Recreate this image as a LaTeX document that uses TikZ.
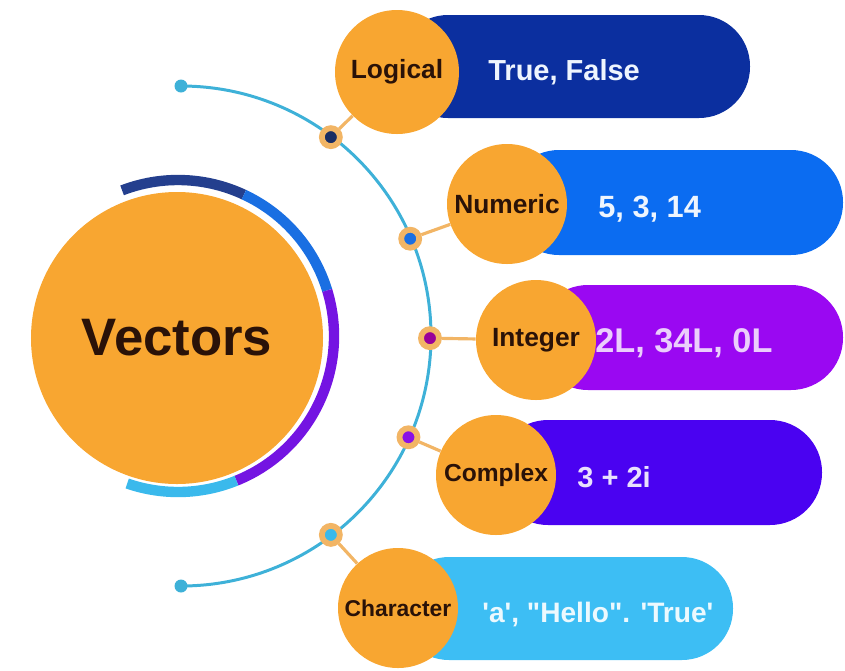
\documentclass[tikz,border=0pt]{standalone}
\usepackage{fontspec}
\setmainfont{Liberation Sans}
\usetikzlibrary{positioning}
\definecolor{vorange}{HTML}{F8A631}
\definecolor{dotring}{HTML}{F2B565}
\definecolor{ink}{HTML}{2A1208}
\definecolor{thinarc}{HTML}{3EB1D8}
\definecolor{cnavy}{HTML}{0B2F9F}
\definecolor{cblue}{HTML}{0B6CF1}
\definecolor{cviolet}{HTML}{9A08F2}
\definecolor{cindigo}{HTML}{4A02F1}
\definecolor{csky}{HTML}{3DBEF4}
\definecolor{rnavy}{HTML}{243F8E}
\definecolor{rblue}{HTML}{1A6FE2}
\definecolor{rviolet}{HTML}{7414E2}
\definecolor{rsky}{HTML}{3AB9EC}
\tikzstyle{kind}=[circle, fill=vorange, minimum size=24mm, inner sep=0pt, text=ink, font=\bfseries\fontsize{15}{18}\selectfont]
\tikzstyle{dot}=[circle, draw=dotring, line width=3.3pt, minimum size=3.6mm, inner sep=0pt]
\tikzstyle{conn}=[draw=dotring, line width=1.8pt]
\tikzstyle{val}=[anchor=base west, inner sep=0pt, font=\bfseries\fontsize{16.5}{19}\selectfont]
\tikzstyle{ring}=[line width=5.9pt]

\begin{document}
\begin{tikzpicture}[x=0.2mm, y=0.2mm]
				\useasboundingbox (0,0) rectangle (845,-670);
				\coordinate (vc) at (178,-336);
				\coordinate (ac) at (181,-336);
				
				\draw[ring, rnavy] ([shift={(111:156)}]vc) arc[start angle=111, end angle=65, radius=156];
				\draw[ring, rblue] ([shift={(65:156)}]vc) arc[start angle=65, end angle=17, radius=156];
				\draw[ring, rviolet] ([shift={(17:156)}]vc) arc[start angle=17, end angle=-68, radius=156];
				\draw[ring, rsky] ([shift={(-68:156)}]vc) arc[start angle=-68, end angle=-109, radius=156];
				\node[circle, fill=vorange, minimum size=58.4mm, inner sep=0pt, text=ink, font=\bfseries\fontsize{30}{36}\selectfont] (vec) at (177,-338) {Vectors};
				
				\coordinate (top) at ([shift={(90:250)}]ac);
				\coordinate (bot) at ([shift={(-90:250)}]ac);
				\draw[thinarc, line width=1.7pt] (top) arc[start angle=90, end angle=-90, radius=250];
				\fill[thinarc] (top) circle[radius=6.5];
				\fill[thinarc] (bot) circle[radius=6.5];
				
				\fill[cnavy, rounded corners=10.2mm] (397,-15) rectangle (750,-118);
				\fill[cblue, rounded corners=10.4mm] (507,-150) rectangle (843,-255);
				\fill[cviolet, rounded corners=10.4mm] (536,-285) rectangle (843,-390);
				\fill[cindigo, rounded corners=10.4mm] (496,-420) rectangle (822,-525);
				\fill[csky, rounded corners=10.2mm] (398,-557) rectangle (733,-660);
				
				\node[kind, minimum size=24.8mm] (logical) at (397,-72) {Logical};
				\node[kind] (numeric) at (507,-204) {Numeric};
				\node[kind] (integer) at (536,-340) {Integer};
				\node[kind, font=\bfseries\fontsize{14}{17}\selectfont] (complex) at (496,-475) {Complex};
				\node[kind, font=\bfseries\fontsize{13}{16}\selectfont] (character) at (398,-608) {Character};
				
				\node[val, text=white!93!cblue] (vlog) at (488,-80) {True, False};
				\node[val, text=white!93!cblue, font=\bfseries\fontsize{17.5}{20}\selectfont] (vnum) at (598,-217) {5, 3, 14};
				\node[val, text=white!80!cviolet, font=\bfseries\fontsize{19.5}{22}\selectfont] (vint) at (595,-352) {2L, 34L, 0L};
				\node[val, text=white!88!cindigo] (vcom) at (577,-487) {3 + 2i};
				\node[val, text=white!90!csky, font=\bfseries\fontsize{16}{19}\selectfont] (vchr) at (482,-622) {\textquotesingle a\textquotesingle, \textquotedbl Hello\textquotedbl. \textquotesingle True\textquotesingle};
				
				\node[dot, fill=rnavy!70!black] (dlog) at ([shift={(53:249)}]ac) {};
				\node[dot, fill=rblue] (dnum) at ([shift={(23:249)}]ac) {};
				\node[dot, fill=violet!80!magenta] (dint) at ([shift={(-0.5:249)}]ac) {};
				\node[dot, fill=rviolet!85!magenta] (dcom) at ([shift={(-24:249)}]ac) {};
				\node[dot, fill=rsky] (dchr) at ([shift={(-53:249)}]ac) {};
				
				\draw[conn](dlog)--(logical);
				\draw[conn](dnum)--(numeric);
				\draw[conn](dint)--(integer);
				\draw[conn](dcom)--(complex);
				\draw[conn](dchr)--(character);
			\end{tikzpicture}
\end{document}
